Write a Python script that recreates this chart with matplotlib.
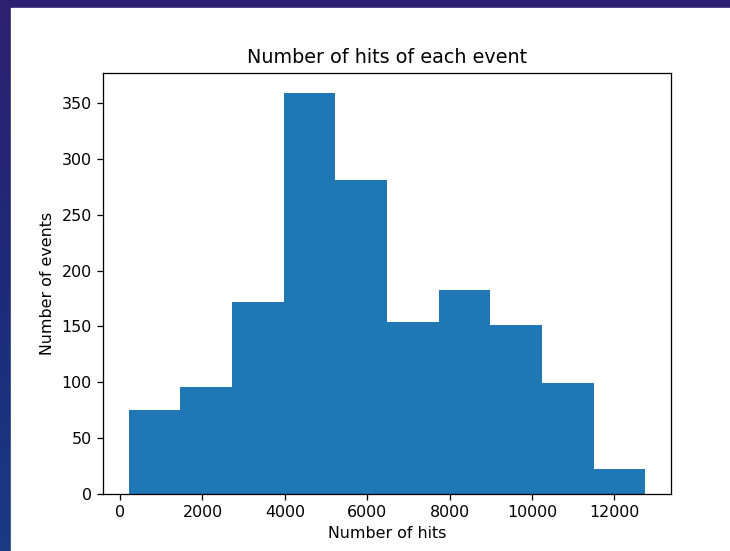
import numpy as np
import matplotlib
matplotlib.use("Agg")
import matplotlib.pyplot as plt
from matplotlib.patches import Rectangle

# Histogram: bin edges and counts
bin_edges = [211, 1465, 2719, 3973, 5227, 6481, 7735, 8989, 10243, 11497, 12752]
counts = [75, 96, 172, 359, 281, 154, 183, 151, 99, 22]

s = 1.145  # screenshot scale
plt.rcParams.update({
    "font.size": 10 * s,
    "axes.linewidth": 0.8 * s,
    "xtick.major.size": 3.5 * s,
    "ytick.major.size": 3.5 * s,
    "xtick.major.width": 0.8 * s,
    "ytick.major.width": 0.8 * s,
    "xtick.major.pad": 3.5 * s,
    "ytick.major.pad": 3.5 * s,
    "axes.titlepad": 6 * s,
    "axes.labelpad": 4 * s,
})

fig = plt.figure(figsize=(7.3, 5.51), dpi=100)

# dark slide background behind the white figure
bg = fig.add_axes([0, 0, 1, 1], zorder=-2)
grad = np.linspace(0, 1, 256).reshape(-1, 1)
cmap = matplotlib.colors.LinearSegmentedColormap.from_list("bg", ["#2e2070", "#1f2a78", "#1a3a82"])
bg.imshow(grad, aspect="auto", cmap=cmap, extent=[0, 1, 0, 1], origin="upper")
bg.add_patch(Rectangle((11 / 730, 0), 1, 1 - 8 / 551, color="white", transform=bg.transAxes))
bg.set_xlim(0, 1)
bg.set_ylim(0, 1)
bg.axis("off")

ax = fig.add_axes([103 / 730, 1 - 494 / 551, 568 / 730, 421 / 551])
ax.hist(bin_edges[:-1], bins=bin_edges, weights=counts, color="#1f77b4")
ax.set_title("Number of hits of each event")
ax.set_xlabel("Number of hits")
ax.set_ylabel("Number of events")

fig.savefig("out.png", dpi=100)
